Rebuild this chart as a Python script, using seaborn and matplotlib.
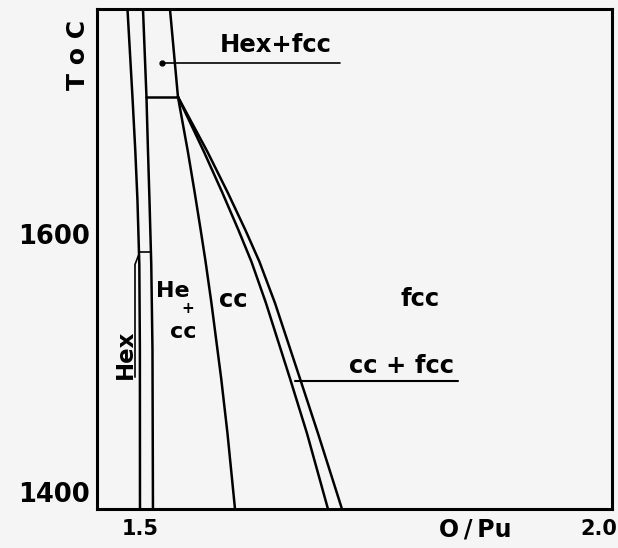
import numpy as np
import pandas as pd
import matplotlib
matplotlib.use("Agg")
import matplotlib.pyplot as plt
import seaborn as sns
from matplotlib.transforms import ScaledTranslation, blended_transform_factory

sns.set_theme(style="white")
plt.rcParams["font.family"] = ["DejaVu Sans"]
plt.rcParams["font.weight"] = "bold"
plt.rcParams["text.color"] = "black"
plt.rcParams["axes.labelcolor"] = "black"

# Phase boundaries of the Pu-O system near PuO1.5 (temperature in °C, composition O/Pu)
t_hex = [1764, 1700, 1661, 1625, 1578, 1516, 1400]
hex_lower = [1.4867, 1.4920, 1.4950, 1.4973, 1.4993, 1.4999, 1.5000]
hex_upper = [1.5032, 1.5069, 1.5085, 1.5101, 1.5120, 1.5133, 1.5138]

t_top = [1764, 1700]
hex_fcc_edge = [1.5319, 1.5404]

t_fan = [1700, 1660, 1630, 1603, 1580, 1550, 1495, 1455, 1400]
cc_lower = [1.5404, 1.5510, 1.5583, 1.5646, 1.5698, 1.5760, 1.5864, 1.5931, 1.6011]
cc_upper = [1.5404, 1.5681, 1.5878, 1.6048, 1.6186, 1.6340, 1.6596, 1.6777, 1.7000]
fcc_lower = [1.5404, 1.5718, 1.5936, 1.6122, 1.6271, 1.6436, 1.6702, 1.6894, 1.7149]

eutectoid_t = [1700, 1700]
eutectoid_x = [1.5069, 1.5404]

# Axis ticks
x_ticks = [1.5, 1.8, 1.9, 2.0]
x_tick_labels = ["1.5", "", "", "2.0"]
y_ticks = [1400, 1500, 1600, 1700]
y_tick_labels = ["1400", "", "1600", ""]

# Phase-field labels: text, O/Pu, T, size
phase_labels = [
    ("Hex+fcc", 1.6447, 1738, 17.5),
    ("fcc", 1.7979, 1553, 17.5),
    ("cc + fcc", 1.7787, 1504, 17.5),
    ("cc", 1.5989, 1552, 17.5),
    ("He", 1.5351, 1559, 16),
    ("+", 1.5511, 1546, 11),
    ("cc", 1.5457, 1529, 16),
]

boundaries = {
    "hex_lower": (hex_lower, t_hex),
    "hex_upper": (hex_upper, t_hex),
    "hex_fcc_edge": (hex_fcc_edge, t_top),
    "eutectoid": (eutectoid_x, eutectoid_t),
    "cc_lower": (cc_lower, t_fan),
    "cc_upper": (cc_upper, t_fan),
    "fcc_lower": (fcc_lower, t_fan),
}
rows = []
for name, (xs, ts) in boundaries.items():
    for i, (x, t) in enumerate(zip(xs, ts)):
        rows.append({"boundary": name, "order": i, "O/Pu": x, "T": t})
df = pd.DataFrame(rows)

bg = "#f5f5f5"
fig = plt.figure(figsize=(6.18, 5.48), dpi=100, facecolor=bg)
ax = fig.add_axes([0.157, 0.0712, 0.833, 0.9124], facecolor=bg)

sns.lineplot(data=df, x="O/Pu", y="T", units="boundary", estimator=None,
             sort=False, color="black", linewidth=1.8, legend=False, ax=ax)

ax.set_xlim(1.4543, 2.002)
ax.set_ylim(1400, 1764)

# Leader lines for labels
ax.plot([1.5234, 1.7128], [1724.6, 1724.6], color="black", lw=1.2)
ax.plot([1.5234], [1724.6], "o", color="black", ms=3.5)
ax.plot([1.6649, 1.8383], [1493, 1493], color="black", lw=1.5)
ax.plot([1.4947, 1.4947, 1.4992], [1496, 1578, 1586], color="black", lw=1.2)
ax.plot([1.4995, 1.5122], [1587, 1587], color="black", lw=1.2)

for text, x, t, size in phase_labels:
    ax.text(x, t, text, ha="center", va="center", fontsize=size,
            fontweight="bold", color="black")
ax.text(1.4840, 1512.6, "Hex", rotation=90, ha="center", va="center",
        fontsize=16.5, fontweight="bold", color="black")

# Ticks
ax.set_xticks(x_ticks)
ax.set_xticklabels(x_tick_labels)
ax.set_yticks(y_ticks)
ax.set_yticklabels(y_tick_labels)
ax.tick_params(axis="both", direction="in", length=9, width=1.8,
               colors="black", labelcolor="black")
ax.tick_params(axis="x", pad=7, labelsize=15)
ax.tick_params(axis="y", pad=5, labelsize=18.5)
for lbl in ax.get_yticklabels():
    if lbl.get_text() == "1400":
        lbl.set_transform(lbl.get_transform() +
                          ScaledTranslation(0, 12 / 72, fig.dpi_scale_trans))
for lbl in ax.get_xticklabels():
    if lbl.get_text() == "2.0":
        lbl.set_horizontalalignment("right")
        lbl.set_transform(lbl.get_transform() +
                          ScaledTranslation(5 / 72, 0, fig.dpi_scale_trans))

ax.set_xlabel("")
ax.set_ylabel("")
bt = blended_transform_factory(ax.transData, ax.transAxes)
ax.text(1.8564, -0.042, "O\u2009/\u2009Pu", transform=bt, ha="center",
        va="center", fontsize=17, fontweight="bold", color="black")
ax.text(-0.037, 0.908, "T o C", transform=ax.transAxes, rotation=90,
        ha="center", va="center", fontsize=18, fontweight="bold",
        color="black")

for sp in ax.spines.values():
    sp.set_color("black")
    sp.set_linewidth(2.2)

fig.savefig("out.png", dpi=100, facecolor=bg)
